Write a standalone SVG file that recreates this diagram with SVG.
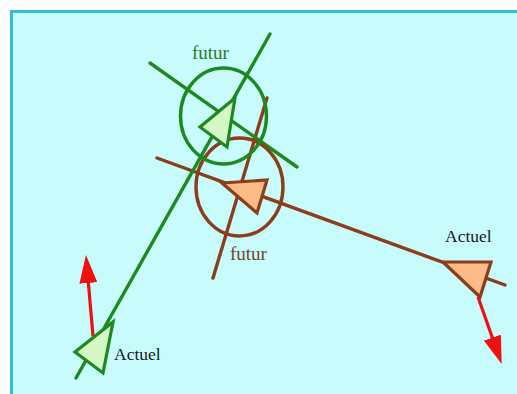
<svg xmlns="http://www.w3.org/2000/svg" width="517" height="394" viewBox="0 0 517 394">
  <style>
    .g { stroke:#1c8a1f; stroke-width:3.4; fill:none; stroke-linecap:round; }
    .b { stroke:#8b3e1c; stroke-width:3.4; fill:none; stroke-linecap:round; }
    .gt { fill:#d6f7c6; stroke:#1c8a1f; stroke-width:3.2; stroke-linejoin:miter; }
    .bt { fill:#fdbb88; stroke:#8b3e1c; stroke-width:3.2; stroke-linejoin:miter; }
    .r { stroke:#ee1111; stroke-width:3.2; fill:none; }
    text { font-family:"Liberation Serif", "Times New Roman", serif; }
  </style>
  <defs>
    <marker id="arr" markerUnits="userSpaceOnUse" markerWidth="28" markerHeight="18" viewBox="0 0 28 18" refX="1" refY="9" orient="auto">
      <path d="M0,0 L28,9 L0,18 z" fill="#ee1111"/>
    </marker>
  </defs>
  <rect x="0" y="0" width="517" height="394" fill="#ffffff"/>
  <rect x="11.5" y="11.5" width="520" height="400" fill="#c8fcfc" stroke="#2fc0d8" stroke-width="3"/>

  <g id="connectors">
    <line class="b" x1="157" y1="158" x2="505" y2="285"/>
    <line class="b" x1="267" y1="98" x2="213" y2="278"/>
    <line class="g" x1="76" y1="378" x2="270" y2="34"/>
    <line class="g" x1="150" y1="63" x2="297" y2="167"/>
    <line class="r" x1="93" y1="336" x2="88.3" y2="282" marker-end="url(#arr)"/>
    <line class="r" x1="478" y1="297" x2="492.7" y2="338.6" marker-end="url(#arr)"/>
  </g>

  <g id="brown-futur-circle">
    <ellipse class="b" cx="239.5" cy="187" rx="43.5" ry="49"/>
  </g>
  <g id="green-futur-circle">
    <ellipse class="g" cx="223.5" cy="116" rx="43" ry="48"/>
  </g>

  <g id="brown-futur">
    <polygon class="bt" points="222,183 267,180 257,213"/>
    <text x="230" y="260" font-size="19" fill="#7a4030">futur</text>
  </g>
  <g id="green-futur">
    <polygon class="gt" points="235,98 227,147 200,127"/>
    <text x="192" y="59" font-size="19" fill="#2a7a2a">futur</text>
  </g>
  <g id="brown-actuel">
    <polygon class="bt" points="443,262 491,262 480,297"/>
    <text x="445" y="242" font-size="17.5" fill="#1a1a1a">Actuel</text>
  </g>
  <g id="green-actuel">
    <polygon class="gt" points="113,322 103,373 75,352"/>
    <text x="114" y="360" font-size="17.5" fill="#1a1a1a">Actuel</text>
  </g>
</svg>
